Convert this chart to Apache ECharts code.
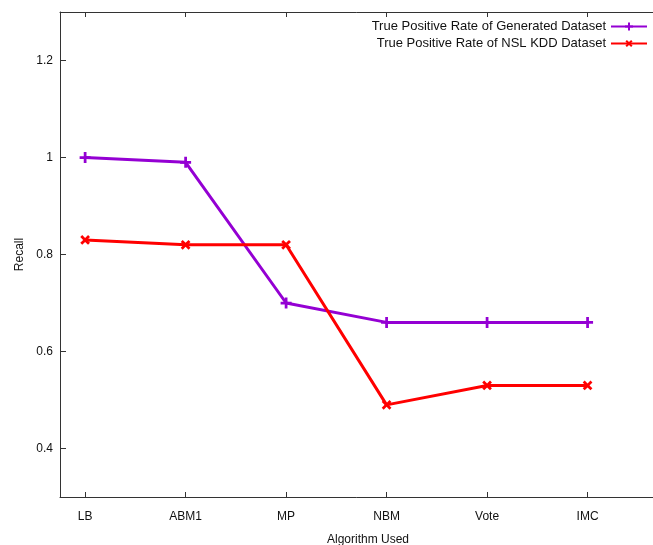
<!DOCTYPE html>
<html>
<head>
<meta charset="utf-8">
<script src="https://cdn.jsdelivr.net/npm/echarts@6/dist/echarts.min.js"></script>
<style>
  html, body { margin: 0; padding: 0; background: #fff; }
  #chart { width: 653px; height: 545px; }
</style>
</head>
<body>
<div id="chart"></div>
<script>
const algorithms = ['LB', 'ABM1', 'MP', 'NBM', 'Vote', 'IMC'];
const generatedTPR = [1.0, 0.99, 0.70, 0.66, 0.66, 0.66];
const nslKddTPR = [0.83, 0.82, 0.82, 0.49, 0.53, 0.53];
const yTicks = [0.4, 0.6, 0.8, 1.0, 1.2];

const font = 'Liberation Sans';
const axisColor = '#333';
// plus shape, the red series turns it 45 degrees to get the cross
const plusPath = 'path://M-1,-4H1V-1H4V1H1V4H-1V1H-4V-1H-1Z';

const toPoints = (vals) => vals.map((v, i) => [i, v]);
const xTicks = algorithms.map((_, i) => i);

const chart = echarts.init(document.getElementById('chart'));

const baseX = {
  type: 'value',
  min: -0.25,
  max: 5.88,
  axisLine: { show: true, onZero: false, lineStyle: { color: axisColor, width: 1 } },
  axisTick: { show: true, inside: true, length: 5, customValues: xTicks, lineStyle: { color: axisColor } },
  splitLine: { show: false },
};

chart.setOption({
  animation: false,
  textStyle: { fontFamily: font },
  grid: { left: 60, top: 12, width: 616, height: 485, outerBoundsMode: 'none', containLabel: false },
  legend: {
    orient: 'vertical',
    right: 0,
    top: 15,
    padding: 5,
    align: 'right',
    itemWidth: 36,
    itemHeight: 10,
    itemGap: 4,
    textStyle: { fontFamily: font, fontSize: 13, color: '#111' },
    data: ['True Positive Rate of Generated Dataset', 'True Positive Rate of NSL KDD Dataset'],
  },
  xAxis: [
    Object.assign({}, baseX, {
      position: 'bottom',
      name: 'Algorithm Used',
      nameLocation: 'middle',
      nameGap: 37,
      nameTextStyle: { fontFamily: font, fontSize: 12, color: '#111' },
      axisLabel: {
        customValues: xTicks,
        margin: 14,
        fontSize: 12,
        color: '#111',
        formatter: (v) => algorithms[Math.round(v)] || '',
      },
    }),
    Object.assign({}, baseX, {
      position: 'top',
      axisLabel: { show: false },
    }),
  ],
  yAxis: {
    type: 'value',
    min: 0.3,
    max: 1.3,
    name: 'Recall',
    nameLocation: 'middle',
    nameGap: 34,
    nameTextStyle: { fontFamily: font, fontSize: 12, color: '#111' },
    axisLine: { show: true, onZero: false, lineStyle: { color: axisColor, width: 1 } },
    axisTick: { show: true, inside: true, length: 6, customValues: yTicks, lineStyle: { color: axisColor } },
    axisLabel: {
      customValues: yTicks,
      margin: 7,
      fontSize: 12,
      color: '#111',
      formatter: (v) => String(+v.toFixed(1)),
    },
    splitLine: { show: false },
  },
  series: [
    {
      name: 'True Positive Rate of Generated Dataset',
      type: 'line',
      data: toPoints(generatedTPR),
      symbol: plusPath,
      symbolSize: 11,
      showAllSymbol: true,
      color: '#9400d3',
      lineStyle: { width: 3, color: '#9400d3' },
      itemStyle: { color: '#9400d3' },
    },
    {
      name: 'True Positive Rate of NSL KDD Dataset',
      type: 'line',
      data: toPoints(nslKddTPR),
      symbol: plusPath,
      symbolRotate: 45,
      symbolSize: 11,
      showAllSymbol: true,
      color: '#ff0000',
      lineStyle: { width: 3, color: '#ff0000' },
      itemStyle: { color: '#ff0000' },
    },
  ],
});
</script>
</body>
</html>
